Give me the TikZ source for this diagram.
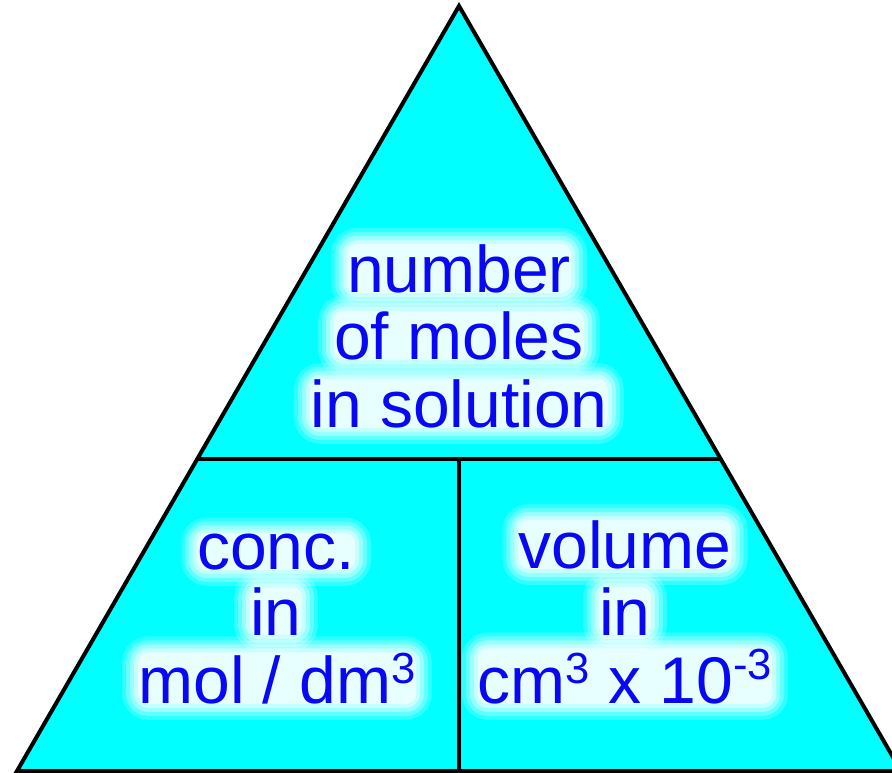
\documentclass[tikz,border=0pt]{standalone}
\usepackage{fontspec}
\setmainfont{Liberation Sans}
\usetikzlibrary{calc,backgrounds}
\pgfdeclarelayer{glow}
\pgfsetlayers{background,glow,main}
\definecolor{fillc}{RGB}{0,255,255}
\definecolor{txt}{RGB}{8,8,245}
\newcommand{\supr}[2]{\raisebox{#1pt}{\scalebox{0.66}{#2}}}
\tikzset{
  lbl/.style={text=txt, inner sep=0pt, anchor=base, font=\fontsize{66}{68}\selectfont},
  edge/.style={line width=4pt, draw=black}
}
\begin{document}
\begin{tikzpicture}[x=1pt,y=-1pt]
\useasboundingbox (0,0) rectangle (892,773);
\clip (0,0) rectangle (892,773);
% text
\node[lbl] (t1) at (459,292) {number};
\node[lbl] (t2) at (459,359) {of moles};
\node[lbl] (t3) at (459,427) {in solution};
\node[lbl] (l1) at (276,569) {conc.};
\node[lbl] (l2) at (276,635) {in};
\node[lbl] (l3) at (277,703) {mol / dm\supr{20}{3}};
\node[lbl] (r1) at (625,568) {volume};
\node[lbl] (r2) at (625,635) {in};
\node[lbl] (r3) at (625,703) {cm\supr{20}{3} x 10\supr{24}{-3}};
% triangle
\begin{pgfonlayer}{background}
\coordinate (A) at (459,6);
\coordinate (B) at (17,771);
\coordinate (C) at (901,771);
\coordinate (L) at ($(A)!0.5922!(B)$);
\coordinate (R) at ($(A)!0.5922!(C)$);
\coordinate (M) at ($(L)!0.5!(R)$);
\coordinate (Mb) at (459,771);
\filldraw[edge, fill=fillc, line join=miter] (A) -- (B) -- (C) -- cycle;
\draw[edge] (L) -- (R);
\draw[edge] (M) -- (Mb);
\end{pgfonlayer}
% glow
\begin{pgfonlayer}{glow}
\foreach \n in {t1,t2,t3,l1,l2,l3,r1,r2,r3} {
  \foreach \d/\o in {16/0.18, 12/0.25, 8/0.35, 4/0.45, 0/0.6} {
    \fill[white, opacity=\o, rounded corners=\d pt+10pt] ($(\n.south west)+(-\d,\d)$) rectangle ($(\n.north east)+(\d,-\d)$);
  }
}
\end{pgfonlayer}
\end{tikzpicture}
\end{document}
